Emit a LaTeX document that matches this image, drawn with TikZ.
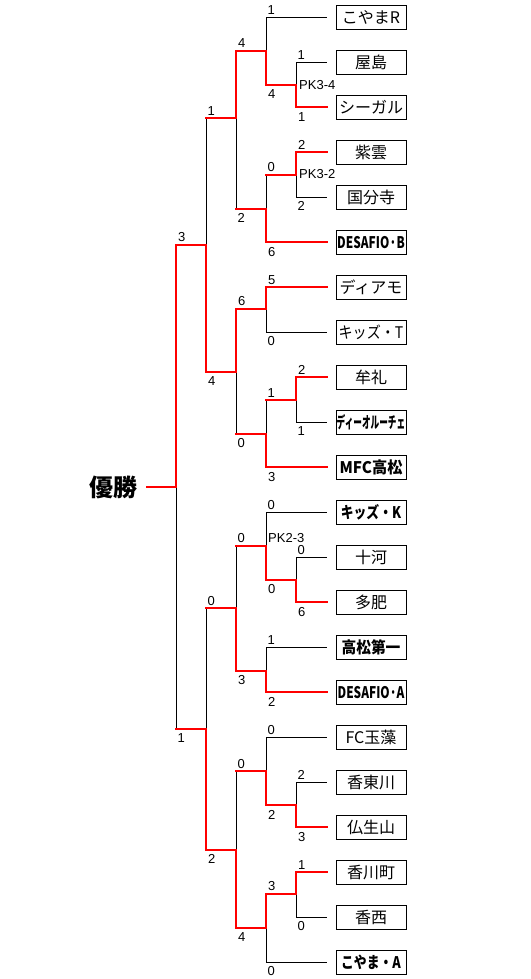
\documentclass[tikz,border=0pt]{standalone}
\usepackage{fontspec}
\setmainfont{Liberation Sans}
\newfontfamily\jp{Noto Sans CJK JP}
\usepackage{graphicx}
\usetikzlibrary{positioning,calc}

\begin{document}
\begin{tikzpicture}[
    x=1pt, y=-1pt,
    node distance=45pt,
    team/.style={
        rectangle, draw, line width=1pt,
        minimum width=70pt,
        minimum height=24pt,
        inner sep=0pt,
        font=\jp\fontsize{16}{16}\selectfont
    },
    teamb/.style={
        team,
        font=\jp\bfseries\fontsize{16}{16}\selectfont
    },
    champ/.style={
        inner sep=0pt,
        font=\jp\bfseries\fontsize{24}{24}\selectfont
    },
    win/.style={draw=red, line width=2pt, line cap=rect},
    lose/.style={draw=black, line width=1pt},
    gap/.style={shorten >=9pt},
    sctop/.style={inner sep=0pt, font=\fontsize{13}{13}\selectfont, anchor=south west, xshift=1pt, yshift=2pt},
    scbot/.style={inner sep=0pt, font=\fontsize{13}{13}\selectfont, anchor=north west, xshift=1pt, yshift=-4pt},
    pk/.style={inner sep=0pt, font=\fontsize{13}{13}\selectfont, anchor=west},
]
\path[use as bounding box, fill=white] (0,0) rectangle (530,979);

% Teams
\node (koyamaR) [team] at (371,17.3) {こやまR};
\node (yashima) [team, below of=koyamaR] {屋島};
\node (seagull) [team, below of=yashima] {シーガル};
\node (shiun) [team, below of=seagull] {紫雲};
\node (kokubunji) [team, below of=shiun] {国分寺};
\node (desafioB) [teamb, below of=kokubunji] {\scalebox{0.74}[1]{DESAFIO·B}};
\node (diamo) [team, below of=desafioB] {ディアモ};
\node (kidsT) [team, below of=diamo] {\scalebox{0.88}[1]{キッズ・T}};
\node (mure) [team, below of=kidsT] {牟礼};
\node (dioluce) [teamb, below of=mure] {\scalebox{0.54}[1]{ディーオルーチェ}};
\node (mfc) [teamb, below of=dioluce] {\scalebox{0.95}[1]{MFC高松}};
\node (kidsK) [teamb, below of=mfc] {\scalebox{0.8}[1]{キッズ・K}};
\node (sogo) [team, below of=kidsK] {十河};
\node (tahi) [team, below of=sogo] {多肥};
\node (daiichi) [teamb, below of=tahi] {\scalebox{0.92}[1]{高松第一}};
\node (desafioA) [teamb, below of=daiichi] {\scalebox{0.74}[1]{DESAFIO·A}};
\node (tamamo) [team, below of=desafioA] {FC玉藻};
\node (kotogawa) [team, below of=tamamo] {香東川};
\node (busshozan) [team, below of=kotogawa] {仏生山};
\node (kagawa) [team, below of=busshozan] {香川町};
\node (kozai) [team, below of=kagawa] {香西};
\node (koyamaA) [teamb, below of=kozai] {\scalebox{0.8}[1]{こやま・A}};

\node (champ) [champ] at (113,487) {優勝};

% Match points
\coordinate (r1a) at (296,85);
\coordinate (r2a) at (266,51);
\coordinate (r1b) at (296,174.5);
\coordinate (r2b) at (266,209);
\coordinate (r3a) at (236,118);
\coordinate (r2c) at (266,308.5);
\coordinate (r1c) at (296,399.5);
\coordinate (r2d) at (266,433.5);
\coordinate (r3b) at (236,371.5);
\coordinate (sf1) at (206,245);
\coordinate (r1d) at (296,579.5);
\coordinate (r2e) at (266,545.5);
\coordinate (r2f) at (266,670.5);
\coordinate (r3c) at (236,608);
\coordinate (r1e) at (296,805);
\coordinate (r2g) at (266,771);
\coordinate (r1f) at (296,894);
\coordinate (r2h) at (266,928);
\coordinate (r3d) at (236,849.5);
\coordinate (sf2) at (206,729);
\coordinate (final) at (176,487);

% Losing side
\draw[lose, gap] (r1a) |- node[sctop]{1} (yashima);
\draw[lose, gap] (r2a) |- node[sctop]{1} (koyamaR);
\draw[lose, gap] (r1b) |- node[scbot]{2} (kokubunji);
\draw[lose] (r2b) -- (r2b |- r1b) node[sctop]{0};
\draw[lose] (r3a) -- (r3a |- r2b) node[scbot]{2};
\draw[lose, gap] (r2c) |- node[scbot]{0} (kidsT);
\draw[lose, gap] (r1c) |- node[scbot]{1} (dioluce);
\draw[lose] (r2d) -- (r2d |- r1c) node[sctop]{1};
\draw[lose] (r3b) -- (r3b |- r2d) node[scbot]{0};
\draw[lose] (sf1) -- (sf1 |- r3a) node[sctop]{1};
\draw[lose, gap] (r1d) |- node[sctop]{0} (sogo);
\draw[lose, gap] (r2e) |- node[sctop]{0} (kidsK);
\draw[lose, gap] (r2f) |- node[sctop]{1} (daiichi);
\draw[lose] (r3c) -- (r3c |- r2e) node[sctop]{0};
\draw[lose, gap] (r1e) |- node[sctop]{2} (kotogawa);
\draw[lose, gap] (r2g) |- node[sctop]{0} (tamamo);
\draw[lose, gap] (r1f) |- node[scbot]{0} (kozai);
\draw[lose, gap] (r2h) |- node[scbot]{0} (koyamaA);
\draw[lose] (r3d) -- (r3d |- r2g) node[sctop]{0};
\draw[lose] (sf2) -- (sf2 |- r3c) node[sctop]{0};
\draw[lose] (final) -- (final |- sf2) node[scbot]{1};

% Winning side
\draw[win, gap] (r1a) |- node[scbot]{1} (seagull);
\draw[win] (r2a) -- (r2a |- r1a) node[scbot]{4};
\draw[win, gap] (r1b) |- node[sctop]{2} (shiun);
\draw[win, gap] (r2b) |- node[scbot]{6} (desafioB);
\draw[win] (r3a) -- (r3a |- r2a) node[sctop]{4};
\draw[win, gap] (r2c) |- node[sctop]{5} (diamo);
\draw[win, gap] (r1c) |- node[sctop]{2} (mure);
\draw[win, gap] (r2d) |- node[scbot]{3} (mfc);
\draw[win] (r3b) -- (r3b |- r2c) node[sctop]{6};
\draw[win] (sf1) -- (sf1 |- r3b) node[scbot]{4};
\draw[win, gap] (r1d) |- node[scbot]{6} (tahi);
\draw[win] (r2e) -- (r2e |- r1d) node[scbot]{0};
\draw[win, gap] (r2f) |- node[scbot]{2} (desafioA);
\draw[win] (r3c) -- (r3c |- r2f) node[scbot]{3};
\draw[win, gap] (r1e) |- node[scbot]{3} (busshozan);
\draw[win] (r2g) -- (r2g |- r1e) node[scbot]{2};
\draw[win, gap] (r1f) |- node[sctop]{1} (kagawa);
\draw[win] (r2h) -- (r2h |- r1f) node[sctop]{3};
\draw[win] (r3d) -- (r3d |- r2h) node[scbot]{4};
\draw[win] (sf2) -- (sf2 |- r3d) node[scbot]{2};
\draw[win] (final) -- (final |- sf1) node[sctop]{3};

% Results passed on
\draw[win] (r1a) -- (r1a -| r2a);
\draw[win] (r2a) -- (r2a -| r3a);
\draw[win] (r1b) -- (r1b -| r2b);
\draw[win] (r2b) -- (r2b -| r3a);
\draw[win] (r3a) -- (r3a -| sf1);
\draw[win] (r2c) -- (r2c -| r3b);
\draw[win] (r1c) -- (r1c -| r2d);
\draw[win] (r2d) -- (r2d -| r3b);
\draw[win] (r3b) -- (r3b -| sf1);
\draw[win] (sf1) -- (sf1 -| final);
\draw[win] (r1d) -- (r1d -| r2e);
\draw[win] (r2e) -- (r2e -| r3c);
\draw[win] (r2f) -- (r2f -| r3c);
\draw[win] (r3c) -- (r3c -| sf2);
\draw[win] (r1e) -- (r1e -| r2g);
\draw[win] (r2g) -- (r2g -| r3d);
\draw[win] (r1f) -- (r1f -| r2h);
\draw[win] (r2h) -- (r2h -| r3d);
\draw[win] (r3d) -- (r3d -| sf2);
\draw[win] (sf2) -- (sf2 -| final);
\draw[win, shorten >=10pt] (final) -- (champ);

% PK results
\node[pk] at ([xshift=3pt]r1a) {PK3-4};
\node[pk] at ([xshift=3pt]r1b) {PK3-2};
\node[pk] at ([shift={(2pt,7pt)}]r2e) {PK2-3};

\end{tikzpicture}
\end{document}
